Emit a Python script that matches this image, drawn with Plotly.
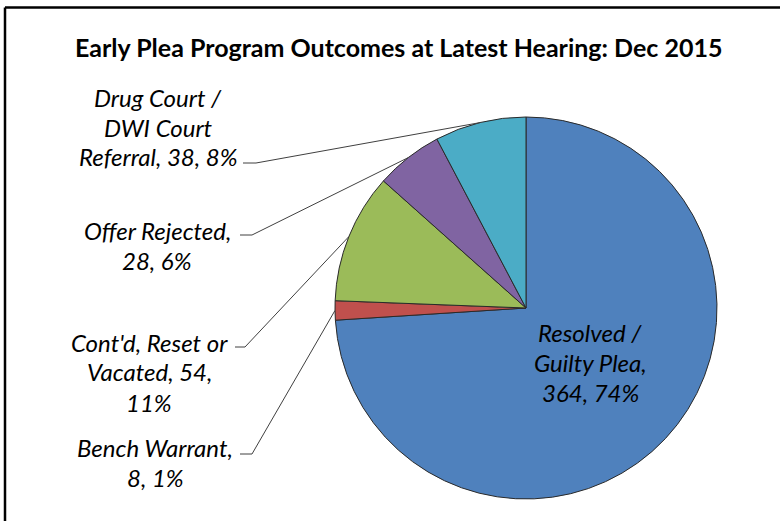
import math
import plotly.graph_objects as go

W, H = 780, 521

# ---- data ----
categories = ["Resolved / Guilty Plea", "Bench Warrant", "Cont'd, Reset or Vacated",
              "Offer Rejected", "Drug Court / DWI Court Referral"]
values = [364, 8, 54, 28, 38]
pct_labels = ["74%", "1%", "11%", "6%", "8%"]
label_lines = [
    ["Resolved /", "Guilty Plea,", "364, 74%"],
    ["Bench Warrant,", "8, 1%"],
    ["Cont'd, Reset or", "Vacated, 54,", "11%"],
    ["Offer Rejected,", "28, 6%"],
    ["Drug Court /", "DWI Court", "Referral, 38, 8%"],
]
colors = ["#4F81BD", "#C0504D", "#9BBB59", "#8064A2", "#4BACC6"]
title = "Early Plea Program Outcomes at Latest Hearing: Dec 2015"

# ---- layout (pixels) ----
cx, cy, R = 526, 308, 191
# label block: (center x, first line center y, leader start x, leader y, leader elbow x)
label_layout = [
    (590, 332, None, None, None),
    (155, 447, 240, 454, 252),
    (149, 342, 235, 347, 245),
    (157, 230, 240, 235, 252),
    (158, 97, 243, 163, 256),
]
LINE_H = 30

def px(x):
    return x / W

def py(y):
    return 1 - y / H

fig = go.Figure(go.Pie(
    labels=categories, values=values, sort=False, direction="clockwise", rotation=0,
    marker=dict(colors=colors, line=dict(color="#2a2a2a", width=1)),
    textinfo="none", hoverinfo="label+value+percent", showlegend=False,
    domain=dict(x=[px(cx - R), px(cx + R)], y=[py(cy + R), py(cy - R)]),
))

annotations = []
shapes = []
total = sum(values)
cum = 0
font = dict(family="Lato, Carlito, sans-serif", size=24, color="#000000", style="italic")
for i, v in enumerate(values):
    mid = (cum + v / 2) / total * 2 * math.pi
    cum += v
    lx, ly0, sx, sy, ex = label_layout[i]
    for k, line in enumerate(label_lines[i]):
        annotations.append(dict(
            text=line, x=px(lx), y=py(ly0 + k * LINE_H), xref="paper", yref="paper",
            xanchor="center", yanchor="middle", showarrow=False, font=font))
    if sx is not None:
        tx = cx + R * math.sin(mid)
        ty = cy - R * math.cos(mid)
        lc = dict(color="#404040", width=1)
        shapes.append(dict(type="line", xref="paper", yref="paper",
                           x0=px(sx), y0=py(sy), x1=px(ex), y1=py(sy), line=lc))
        shapes.append(dict(type="line", xref="paper", yref="paper",
                           x0=px(ex), y0=py(sy), x1=px(tx), y1=py(ty), line=lc))

annotations.append(dict(
    text="<b>" + title + "</b>", x=px(398), y=py(47), xref="paper", yref="paper",
    xanchor="center", yanchor="middle", showarrow=False,
    font=dict(family="Lato, Carlito, sans-serif", size=25, color="#000000")))

# frame (left and top edges)
shapes.append(dict(type="line", xref="paper", yref="paper", x0=px(5), y0=py(7.5), x1=px(W), y1=py(7.5),
                   line=dict(color="#000000", width=2.5)))
shapes.append(dict(type="line", xref="paper", yref="paper", x0=px(5), y0=py(7.5), x1=px(5), y1=py(H),
                   line=dict(color="#000000", width=2.5)))

fig.update_layout(
    width=W, height=H, margin=dict(l=0, r=0, t=0, b=0),
    paper_bgcolor="white", plot_bgcolor="white",
    annotations=annotations, shapes=shapes,
)

fig.write_html("out.html", config={"displayModeBar": False},
               post_script="document.body.style.margin='0';document.body.style.overflow='hidden';"
                           "document.documentElement.style.overflow='hidden';"
                           "document.head.insertAdjacentHTML('beforeend',"
                           "'<style>::-webkit-scrollbar{display:none;width:0;height:0}</style>');")
